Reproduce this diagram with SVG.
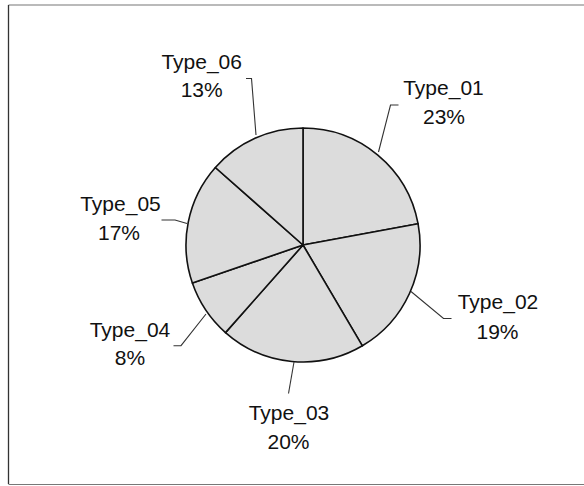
<svg xmlns="http://www.w3.org/2000/svg" width="584" height="486" viewBox="0 0 584 486">
<style>
.slice{fill:#dcdcdc;stroke:#111;stroke-width:1.6;stroke-linejoin:round}
.lbl{font-family:"Liberation Sans",Arial,sans-serif;font-size:21px;fill:#111;text-anchor:middle}
.lead{fill:none;stroke:#333;stroke-width:1.1}
.frame{fill:none;stroke:#777;stroke-width:1.2}
</style>
<rect x="0" y="0" width="584" height="486" fill="#fff"/>
<g id="frame">
<line class="frame" x1="8.5" y1="5" x2="584" y2="5"/>
<line x1="8.5" y1="5" x2="8.5" y2="484" stroke="#333" stroke-width="1.3"/>
<line class="frame" x1="8.5" y1="484.5" x2="584" y2="484.5" stroke="#aaa"/>
</g>
<g id="slice-type01"><path class="slice" d="M303,245 L303,128 A117,117 0 0 1 418.05,223.68 Z"/></g>
<g id="slice-type02"><path class="slice" d="M303,245 L418.05,223.68 A117,117 0 0 1 362.38,345.81 Z"/></g>
<g id="slice-type03"><path class="slice" d="M303,245 L362.38,345.81 A117,117 0 0 1 225.48,332.63 Z"/></g>
<g id="slice-type04"><path class="slice" d="M303,245 L225.48,332.63 A117,117 0 0 1 192.38,283.09 Z"/></g>
<g id="slice-type05"><path class="slice" d="M303,245 L192.38,283.09 A117,117 0 0 1 215.37,167.48 Z"/></g>
<g id="slice-type06"><path class="slice" d="M303,245 L215.37,167.48 A117,117 0 0 1 303,128 Z"/></g>
<g id="connectors">
<polyline class="lead" points="398.5,105 390.5,105 378.5,152"/>
<polyline class="lead" points="451.5,318.5 443.5,318.5 411,291.5"/>
<polyline class="lead" points="288.5,393.5 294,362"/>
<polyline class="lead" points="173.5,345.7 181,345.7 206,314"/>
<polyline class="lead" points="161.5,220 175,220 187,223.5"/>
<polyline class="lead" points="246,78.5 251.5,78.5 256,135"/>
</g>
<g id="label-type01"><text class="lbl" x="443.5" y="95">Type_01</text><text class="lbl" x="444" y="124">23%</text></g>
<g id="label-type02"><text class="lbl" x="498" y="308.5">Type_02</text><text class="lbl" x="497.5" y="338.5">19%</text></g>
<g id="label-type03"><text class="lbl" x="289" y="420">Type_03</text><text class="lbl" x="288.5" y="449">20%</text></g>
<g id="label-type04"><text class="lbl" x="130" y="336.5">Type_04</text><text class="lbl" x="130" y="365">8%</text></g>
<g id="label-type05"><text class="lbl" x="120.5" y="210.5">Type_05</text><text class="lbl" x="119" y="239.5">17%</text></g>
<g id="label-type06"><text class="lbl" x="201.7" y="68.5">Type_06</text><text class="lbl" x="201.7" y="97">13%</text></g>
</svg>
